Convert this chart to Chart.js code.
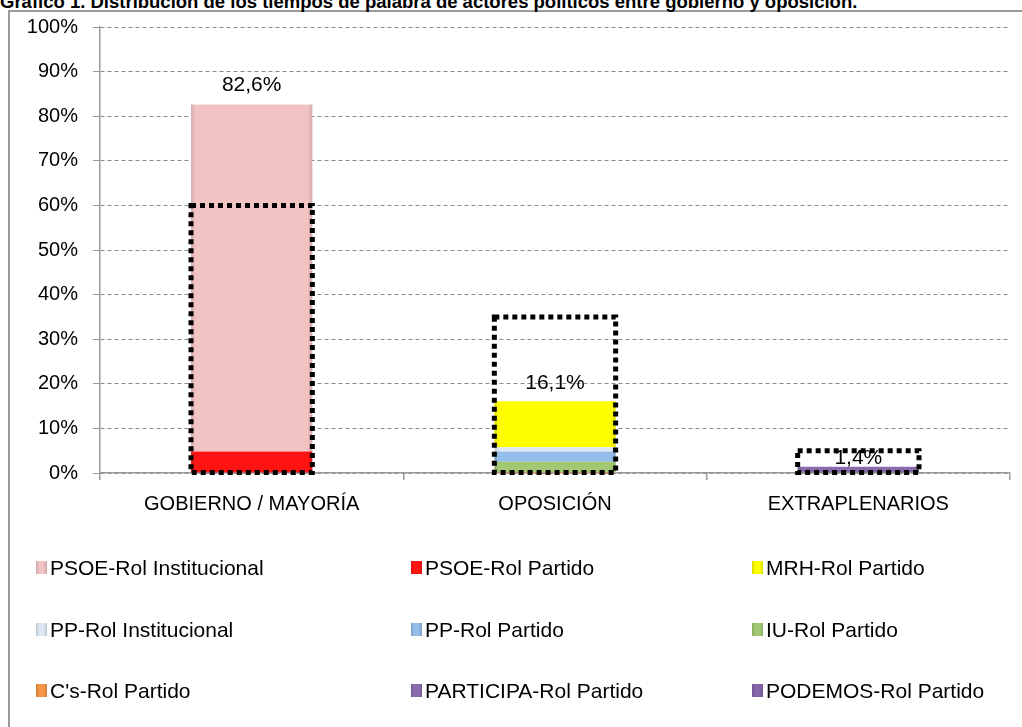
<!DOCTYPE html>
<html>
<head>
<meta charset="utf-8">
<script src="https://cdn.jsdelivr.net/npm/chart.js@4.4.0/dist/chart.umd.min.js"></script>
<style>
html,body{margin:0;padding:0;background:#fff;overflow:hidden}
#wrap{position:relative;width:1022px;height:727px;overflow:hidden}
#title{position:absolute;left:0;top:-7px;font:bold 18.5px "Liberation Sans",Arial,sans-serif;line-height:18px;white-space:nowrap}
#frame{position:absolute;left:8px;top:10px;width:1100px;height:800px;border:2px solid #9a9a9a;box-sizing:border-box;background:#fff}
#myChart{position:absolute;left:0;top:0}
.item{position:absolute;font:21px "Liberation Sans",Arial,sans-serif;line-height:24px;white-space:nowrap;color:#000}
.sw{position:absolute;left:0;top:5px;width:11px;height:13px}
.txt{position:absolute;left:14px;top:0}
</style>
</head>
<body>
<div id="wrap">
  <div id="frame"></div>
  <div id="title">Gráfico 1. Distribución de los tiempos de palabra de actores políticos entre gobierno y oposición.</div>
  <canvas id="myChart" width="1022" height="727"></canvas>
  <div id="legend"></div>
</div>
<script>
// categories and series (values in %)
const categories=['GOBIERNO / MAYORÍA','OPOSICIÓN','EXTRAPLENARIOS'];
const seriesNames=['PSOE-Rol Institucional','PSOE-Rol Partido','MRH-Rol Partido',
  'PP-Rol Institucional','PP-Rol Partido','IU-Rol Partido',
  "C's-Rol Partido",'PARTICIPA-Rol Partido','PODEMOS-Rol Partido'];
const psoeInst=[77.8,0,0];
const psoePart=[4.8,0,0];
const mrhPart=[0,10.3,0];
const ppInst=[0,1.0,0];
const ppPart=[0,2.3,0];
const iuPart=[0,2.3,0];
const csPart=[0,0.2,0];
const participaPart=[0,0,0.7];
const podemosPart=[0,0,0.7];
// column totals shown as labels
const totals=[82.6,16.1,1.4];
// dotted reference boxes
const boxValues=[60,35,5];
// y axis ticks
const yTicks=[0,10,20,30,40,50,60,70,80,90,100];

const seriesValues=[psoeInst,psoePart,mrhPart,ppInst,ppPart,iuPart,csPart,participaPart,podemosPart];
const colors=['#f2c3c3','#ff1414','#ffff00','#dde8f4','#94bdea','#a3c873','#f79646','#8a6cae','#8467a8'];
//gap between bar top and its label
const labelGap=[19,18,9];

//build legend as a 3 column grid
const legendEl=document.getElementById('legend');
const colX=[36,411,752];
const rowY=[556,618,679];
seriesNames.forEach(function(name,i){
    const d=document.createElement('div');
    d.className='item';
    d.style.left=colX[i%3]+'px';
    d.style.top=rowY[Math.floor(i/3)]+'px';
    d.innerHTML='<span class="sw" style="background:linear-gradient(90deg,rgba(0,0,0,0.15),rgba(0,0,0,0) 30%,rgba(0,0,0,0) 70%,rgba(0,0,0,0.15)),'+colors[i]+'"></span><span class="txt"></span>';
    d.querySelector('.txt').textContent=name;
    legendEl.appendChild(d);
});

//datasets stacked bottom-up in reverse legend order
const datasets=seriesNames.map(function(name,i){
    return {label:name,data:seriesValues[i],backgroundColor:colors[i],borderWidth:0,stack:'s'};
}).reverse();
//dotted boxes: not grouped, so they sit on top of the stacked column
datasets.push({label:'box',data:boxValues,stack:'box',grouped:false,backgroundColor:'rgba(0,0,0,0)',borderWidth:0});
const boxIndex=datasets.length-1;

const overlay={
    id:'overlay',
    afterDatasetsDraw(chart){
        const ctx=chart.ctx;
        //light bevel on the coloured bars
        ctx.save();
        for(let d=0;d<boxIndex;d++){
            chart.getDatasetMeta(d).data.forEach(function(b){
                const h=b.base-b.y;
                if(h<1) return;
                const l=b.x-b.width/2;
                const g=ctx.createLinearGradient(l,0,l+b.width,0);
                g.addColorStop(0,'rgba(0,0,0,0.12)');
                g.addColorStop(0.04,'rgba(0,0,0,0)');
                g.addColorStop(0.96,'rgba(0,0,0,0)');
                g.addColorStop(1,'rgba(0,0,0,0.12)');
                ctx.fillStyle=g;
                ctx.fillRect(l,b.y,b.width,h);
            });
        }
        ctx.restore();
        //dotted boxes
        const meta=chart.getDatasetMeta(boxIndex);
        ctx.save();
        ctx.strokeStyle='#000';
        ctx.lineWidth=5;
        ctx.setLineDash([5,4]);
        meta.data.forEach(function(b){
            ctx.strokeRect(b.x-b.width/2,b.y,b.width,b.base-b.y);
        });
        ctx.restore();
        //total labels
        ctx.save();
        ctx.font='21px "Liberation Sans", Arial, sans-serif';
        ctx.fillStyle='#000';
        ctx.textAlign='center';
        ctx.textBaseline='middle';
        totals.forEach(function(t,i){
            const x=chart.scales.x.getPixelForValue(i);
            const y=chart.scales.y.getPixelForValue(t);
            ctx.fillText(t.toFixed(1).replace('.',',')+'%',x,y-labelGap[i]);
        });
        ctx.restore();
    }
};

const chart=document.getElementById('myChart');
new Chart(chart,{
    type:'bar',
    data:{labels:categories,datasets:datasets},
    options:{
        responsive:false,
        animation:false,
        categoryPercentage:1,
        barPercentage:0.4,
        layout:{padding:{left:8,right:12,top:25,bottom:0}},
        plugins:{legend:{display:false},tooltip:{enabled:false}},
        scales:{
            x:{
                stacked:true,
                offset:true,
                grid:{drawOnChartArea:false,offset:true,color:'#9a9a9a',tickLength:7,lineWidth:1.5},
                border:{color:'#9a9a9a',width:1.5},
                ticks:{color:'#000',padding:12,font:{family:'"Liberation Sans", Arial',size:20}},
                afterFit:function(s){s.height=254;}
            },
            y:{
                stacked:true,
                min:0,max:100,
                afterBuildTicks:function(s){s.ticks=yTicks.map(function(v){return {value:v};});},
                grid:{color:'#8a8a8a',tickLength:7,tickColor:'#9a9a9a',tickBorderDash:[],lineWidth:1},
                border:{color:'#9a9a9a',width:1.5,dash:[4,3]},
                ticks:{color:'#000',padding:15,font:{family:'"Liberation Sans", Arial',size:20},
                    callback:function(v){return v+'%';}},
                afterFit:function(s){s.width=92;}
            }
        }
    },
    plugins:[overlay]
});
</script>
</body>
</html>
